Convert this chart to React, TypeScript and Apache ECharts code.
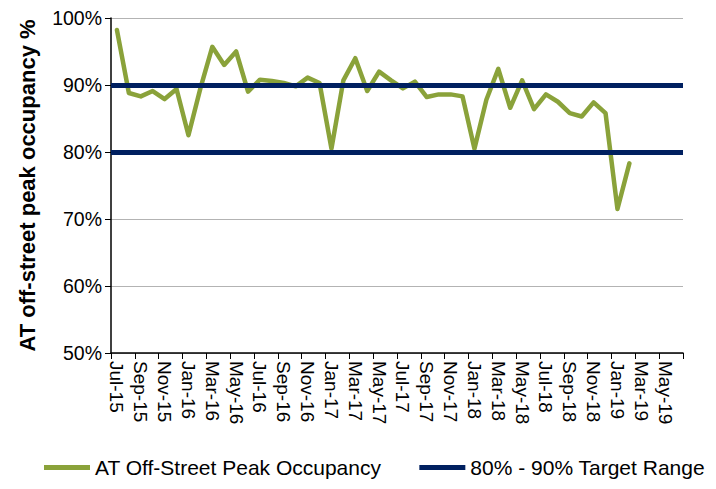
import React, { useEffect, useRef } from "react";
import * as echarts from "echarts";

const months: string[] = [
  "Jul-15", "Aug-15", "Sep-15", "Oct-15", "Nov-15", "Dec-15",
  "Jan-16", "Feb-16", "Mar-16", "Apr-16", "May-16", "Jun-16",
  "Jul-16", "Aug-16", "Sep-16", "Oct-16", "Nov-16", "Dec-16",
  "Jan-17", "Feb-17", "Mar-17", "Apr-17", "May-17", "Jun-17",
  "Jul-17", "Aug-17", "Sep-17", "Oct-17", "Nov-17", "Dec-17",
  "Jan-18", "Feb-18", "Mar-18", "Apr-18", "May-18", "Jun-18",
  "Jul-18", "Aug-18", "Sep-18", "Oct-18", "Nov-18", "Dec-18",
  "Jan-19", "Feb-19", "Mar-19", "Apr-19", "May-19", "Jun-19",
];

const occupancy: number[] = [
  98.2, 88.8, 88.3, 89.1, 87.9, 89.4,
  82.5, 89.5, 95.7, 93.0, 95.0, 89.0,
  90.8, 90.6, 90.3, 89.8, 91.1, 90.3,
  80.5, 90.7, 94.0, 89.1, 92.0, 90.7,
  89.5, 90.5, 88.2, 88.6, 88.6, 88.3,
  80.5, 87.8, 92.4, 86.6, 90.7, 86.4,
  88.6, 87.5, 85.8, 85.3, 87.4, 85.8,
  71.5, 78.3,
];

const targetRange: number[] = [80, 90];

const yTicks = { min: 50, max: 100, interval: 10 };

const GREEN = "#8AA23A";
const NAVY = "#002060";
const FONT = "Liberation Sans, Arial, sans-serif";

export default function App() {
  const ref = useRef<HTMLDivElement>(null);
  useEffect(() => {
    if (!ref.current) return;
    const chart = echarts.init(ref.current, undefined, { renderer: "svg" });
    chart.setOption({
      animation: false,
      backgroundColor: "#fff",
      textStyle: { fontFamily: FONT, color: "#000" },
      grid: { left: 111, right: 33, top: 18, bottom: 136, containLabel: false },
      legend: {
        left: 44,
        top: 457,
        padding: 0,
        itemWidth: 46,
        itemHeight: 5,
        itemGap: 38,
        icon: "rect",
        textStyle: { fontFamily: FONT, fontSize: 21, color: "#000" },
        data: [
          { name: "AT Off-Street Peak Occupancy", itemStyle: { color: GREEN } },
          { name: "80% - 90% Target Range", itemStyle: { color: NAVY } },
        ],
      },
      xAxis: {
        type: "category",
        data: months,
        boundaryGap: true,
        axisLine: { lineStyle: { color: "#000", width: 1.5 } },
        axisTick: { show: true, interval: 1, length: 6, lineStyle: { color: "#000" } },
        axisLabel: {
          interval: 1,
          rotate: -90,
          margin: 8,
          fontFamily: FONT,
          fontSize: 19,
          color: "#000",
        },
        splitLine: { show: false },
      },
      yAxis: {
        type: "value",
        min: yTicks.min,
        max: yTicks.max,
        interval: yTicks.interval,
        name: "AT off-street peak occupancy %",
        nameLocation: "middle",
        nameGap: 73,
        nameTextStyle: { fontFamily: FONT, fontSize: 22, fontWeight: "bold", color: "#000" },
        axisLine: { show: true, lineStyle: { color: "#000", width: 1.5 } },
        axisTick: { show: true, length: 6, lineStyle: { color: "#000" } },
        axisLabel: {
          formatter: "{value}%",
          fontFamily: FONT,
          fontSize: 19.5,
          color: "#000",
          margin: 9,
        },
        splitLine: { show: true, lineStyle: { color: "#b3b3b3", width: 1 } },
      },
      series: [
        {
          name: "AT Off-Street Peak Occupancy",
          type: "line",
          data: occupancy,
          symbol: "none",
          z: 2,
          itemStyle: { color: GREEN },
          lineStyle: { color: GREEN, width: 4.5, cap: "round", join: "round" },
        },
        {
          name: "80% - 90% Target Range",
          type: "line",
          data: [],
          symbol: "none",
          z: 3,
          itemStyle: { color: NAVY },
          lineStyle: { color: NAVY, width: 5 },
          markLine: {
            silent: true,
            symbol: "none",
            label: { show: false },
            lineStyle: { color: NAVY, width: 5, type: "solid" },
            data: targetRange.map((v) => ({ yAxis: v })),
          },
        },
      ],
    });
    return () => chart.dispose();
  }, []);
  return (
    <div
      ref={ref}
      style={{ position: "absolute", left: 0, top: 0, width: 716, height: 489 }}
    />
  );
}
